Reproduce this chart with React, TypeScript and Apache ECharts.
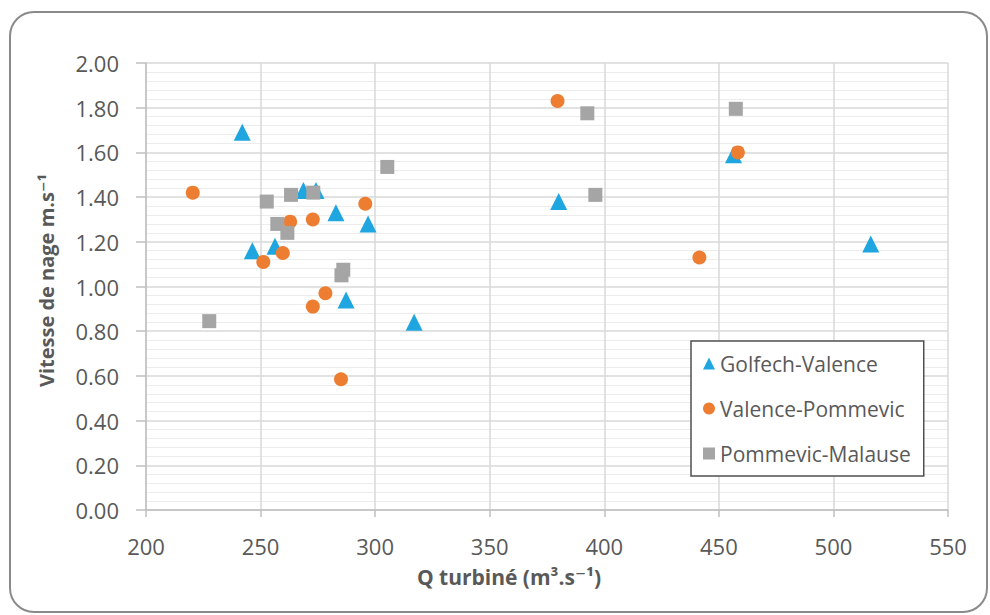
import { useEffect, useRef } from "react";
import * as echarts from "echarts";

// Swimming speed (m/s) against turbined discharge (m³/s) for three river reaches
const seriesNames = ["Golfech-Valence", "Valence-Pommevic", "Pommevic-Malause"];

const golfechValence: [number, number][] = [
  [242, 1.69], [246.4, 1.16], [256.3, 1.18], [268.7, 1.43], [274.2, 1.43],
  [282.9, 1.33], [296.9, 1.28], [287.3, 0.94], [317, 0.84], [380.1, 1.38],
  [456.4, 1.59], [516.3, 1.19],
];

const valencePommevic: [number, number][] = [
  [220.4, 1.42], [251.2, 1.11], [259.7, 1.15], [262.9, 1.29], [272.8, 1.3],
  [295.7, 1.37], [278.3, 0.97], [272.8, 0.91], [285.1, 0.585], [379.6, 1.83],
  [441.5, 1.13], [458.3, 1.6],
];

const pommevicMalause: [number, number][] = [
  [252.7, 1.38], [263.3, 1.41], [273, 1.42], [305.3, 1.535], [257.3, 1.28],
  [261.7, 1.24], [286.1, 1.075], [285.3, 1.05], [227.6, 0.845], [392.6, 1.775],
  [396.1, 1.41], [457.4, 1.795],
];

const xRange = { min: 200, max: 550, step: 50 };
const yRange = { min: 0, max: 2, step: 0.2 };

const colors = ["#1fa6e0", "#ed7d31", "#a5a5a5"];
const symbols = ["triangle", "circle", "rect"];
const sizes = [17, 14, 14];

const labelFont = "'Open Sans', 'DejaVu Sans', sans-serif";

export default function App() {
  const ref = useRef<HTMLDivElement>(null);

  useEffect(() => {
    if (!ref.current) return;
    const chart = echarts.init(ref.current, undefined, { renderer: "svg" });
    const data = [golfechValence, valencePommevic, pommevicMalause];

    chart.setOption({
      animation: false,
      backgroundColor: "#ffffff",
      graphic: [
        {
          type: "rect",
          shape: { x: 10, y: 12, width: 977, height: 600, r: 24 },
          style: { fill: "none", stroke: "#8a8a8a", lineWidth: 2 },
          z: -1,
        },
      ],
      grid: { left: 146, right: 42, top: 63, bottom: 105 },
      legend: {
        orient: "vertical",
        left: 691,
        top: 341,
        padding: [12, 13, 12, 12],
        itemGap: 24,
        itemWidth: 12,
        itemHeight: 12,
        backgroundColor: "#ffffff",
        borderColor: "#505050",
        borderWidth: 1.5,
        textStyle: { fontFamily: labelFont, fontSize: 21, color: "#595959" },
        data: seriesNames,
      },
      xAxis: {
        type: "value",
        min: xRange.min,
        max: xRange.max,
        interval: xRange.step,
        name: "Q turbiné (m³.s⁻¹)",
        nameLocation: "middle",
        nameGap: 56,
        nameTextStyle: {
          fontFamily: labelFont,
          fontSize: 21,
          fontWeight: "bold",
          color: "#595959",
          padding: [0, 76, 0, 0],
        },
        axisLine: { show: true, lineStyle: { color: "#bfbfbf", width: 1.5 } },
        axisTick: { show: true, length: 7, lineStyle: { color: "#bfbfbf", width: 1.5 } },
        axisLabel: {
          margin: 25,
          fontFamily: labelFont,
          fontSize: 22,
          color: "#595959",
        },
        splitLine: { show: true, lineStyle: { color: "#d9d9d9", width: 1.5 } },
      },
      yAxis: {
        type: "value",
        min: yRange.min,
        max: yRange.max,
        interval: yRange.step,
        name: "Vitesse de nage m.s⁻¹",
        nameLocation: "middle",
        nameGap: 90,
        nameTextStyle: {
          fontFamily: labelFont,
          fontSize: 20,
          fontWeight: "bold",
          color: "#595959",
          padding: [0, 0, 0, 12],
        },
        axisLine: { show: true, lineStyle: { color: "#bfbfbf", width: 1.5 } },
        axisTick: { show: true, length: 10, lineStyle: { color: "#bfbfbf", width: 1.5 } },
        axisLabel: {
          margin: 27,
          fontFamily: labelFont,
          fontSize: 22,
          color: "#595959",
          formatter: (v: number) => v.toFixed(2),
        },
        splitLine: { show: true, lineStyle: { color: "#d9d9d9", width: 1.5 } },
        minorTick: { show: false, splitNumber: 5 },
        minorSplitLine: { show: true, lineStyle: { color: "#ececec", width: 1 } },
      },
      series: data.map((d, i) => ({
        name: seriesNames[i],
        type: "scatter",
        data: d,
        symbol: symbols[i],
        symbolSize: sizes[i],
        itemStyle: { color: colors[i], opacity: 1 },
        z: 2 + i,
      })),
    });

    return () => chart.dispose();
  }, []);

  return (
    <div
      ref={ref}
      style={{ position: "fixed", left: 0, top: 0, width: 990, height: 615 }}
    />
  );
}
